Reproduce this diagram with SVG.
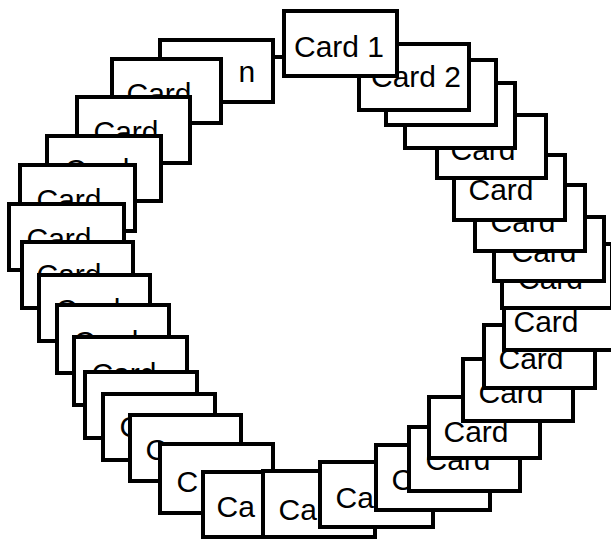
<svg xmlns="http://www.w3.org/2000/svg" width="611" height="539" viewBox="0 0 611 539">
  <style>
    .card rect { fill: #fff; stroke: #000; stroke-width: 4; }
    .card text { font-family: "Liberation Sans", Arial, Helvetica, sans-serif; font-size: 30px; fill: #000; }
    .link { stroke: #000; stroke-width: 4; fill: none; }
  </style>
  <rect width="611" height="539" fill="#fff"/>

  <!-- Ring of cards, drawn from the last card back to Card 1 so each card sits on its clockwise neighbour -->
  <g id="card-n" class="card"><rect x="160" y="40" width="113" height="62"/><text x="238.5" y="82">n</text></g>
  <g id="card-31" class="card"><rect x="112" y="59" width="109" height="64"/><text x="126.5" y="104">Card</text></g>
  <g id="card-30" class="card"><rect x="77" y="97" width="113" height="66"/><text x="93.5" y="142">Card</text></g>
  <g id="card-29" class="card"><rect x="47" y="136" width="114" height="65"/><text x="64.5" y="180">Card</text></g>
  <g id="card-28" class="card"><rect x="20" y="165" width="115" height="66"/><text x="36.5" y="210">Card</text></g>
  <g id="card-27" class="card"><rect x="9" y="204" width="115" height="66"/><text x="26.5" y="249">Card</text></g>
  <g id="card-26" class="card"><rect x="22" y="242" width="111" height="66"/><text x="36.5" y="285">Card</text></g>
  <g id="card-25" class="card"><rect x="39" y="275" width="111" height="66"/><text x="55.5" y="320">Card</text></g>
  <g id="card-24" class="card"><rect x="57" y="305" width="112" height="68"/><text x="73.5" y="352">Card</text></g>
  <g id="card-23" class="card"><rect x="74" y="337" width="113" height="68"/><text x="91.5" y="384">Card</text></g>
  <g id="card-22" class="card"><rect x="85" y="372" width="112" height="66"/></g>
  <g id="card-21" class="card"><rect x="103" y="394" width="112" height="66"/><text x="119.5" y="437">C</text></g>
  <g id="card-20" class="card"><rect x="130" y="415" width="111" height="66"/><text x="145.5" y="460">C</text></g>
  <g id="card-19" class="card"><rect x="160" y="444" width="113" height="69"/><text x="176.5" y="492">C</text></g>
  <g id="card-18" class="card"><rect x="203" y="472" width="113" height="65"/><text x="216.5" y="517">Ca</text></g>
  <g id="card-17" class="card"><rect x="263" y="471" width="112" height="66"/><text x="278.5" y="520">Ca</text></g>
  <g id="card-16" class="card"><rect x="320" y="462" width="113" height="65"/><text x="335.5" y="508">Ca</text></g>
  <g id="card-15" class="card"><rect x="376" y="445" width="114" height="65"/><text x="391.5" y="490">C</text></g>
  <g id="card-14" class="card"><rect x="409" y="427" width="111" height="64"/><text x="425.5" y="470">Card</text></g>
  <g id="card-13" class="card"><rect x="429" y="397" width="111" height="61"/><text x="443.5" y="442">Card</text></g>
  <g id="card-12" class="card"><rect x="463" y="359" width="110" height="62"/><text x="478.5" y="403">Card</text></g>
  <g id="card-11" class="card"><rect x="484" y="325" width="111" height="63"/><text x="498.5" y="369">Card</text></g>
  <g id="card-10" class="card"><rect x="504" y="287" width="110" height="63"/><text x="513.5" y="332">Card</text></g>
  <g id="card-9" class="card"><rect x="502" y="244" width="110" height="64"/><text x="518" y="289">Card</text></g>
  <g id="card-8" class="card"><rect x="494" y="217" width="110" height="64"/><text x="511.5" y="262">Card</text></g>
  <g id="card-7" class="card"><rect x="475" y="185" width="110" height="66"/><text x="490.5" y="232">Card</text></g>
  <g id="card-6" class="card"><rect x="454" y="155" width="111" height="65"/><text x="468.5" y="200">Card</text></g>
  <g id="card-5" class="card"><rect x="437" y="115" width="109" height="63"/><text x="450.5" y="160">Card</text></g>
  <g id="card-4" class="card"><rect x="405" y="83" width="110" height="65"/></g>
  <g id="card-3" class="card"><rect x="386" y="60" width="110" height="65"/></g>
  <g id="card-2" class="card"><rect x="359" y="44" width="110" height="66"/><text x="371" y="87">Card 2</text></g>
  <g id="card-1" class="card"><rect x="284" y="11" width="113" height="65"/><text x="294" y="57">Card 1</text></g>

  <!-- Link closing the ring between Card n and Card 1 -->
  <g id="connectors">
    <line class="link" x1="275" y1="57" x2="283" y2="57"/>
  </g>
</svg>
